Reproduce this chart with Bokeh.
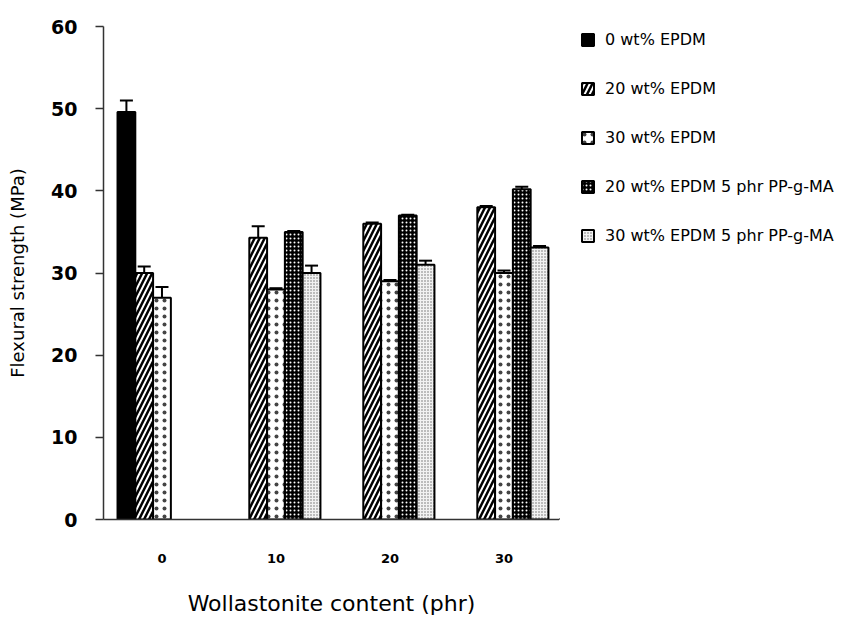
import math
from bokeh.plotting import figure
from bokeh.layouts import row
from bokeh.models import (ColumnDataSource, Range1d, FixedTicker, Whisker, TeeHead,
                          Legend, LegendItem)
from bokeh.embed import file_html
from bokeh.resources import INLINE

# ---- data ----
categories = ["0", "10", "20", "30"]
series_names = ["0 wt% EPDM", "20 wt% EPDM", "30 wt% EPDM",
                "20 wt% EPDM 5 phr PP-g-MA", "30 wt% EPDM 5 phr PP-g-MA"]
nan = float("nan")
epdm0 = [49.6, nan, nan, nan]
epdm0_err = [1.4, nan, nan, nan]
epdm20 = [30.0, 34.3, 36.0, 38.0]
epdm20_err = [0.8, 1.4, 0.15, 0.15]
epdm30 = [27.0, 28.0, 29.0, 30.0]
epdm30_err = [1.3, 0.15, 0.15, 0.3]
epdm20_ma = [nan, 35.0, 37.0, 40.2]
epdm20_ma_err = [nan, 0.1, 0.1, 0.3]
epdm30_ma = [nan, 30.0, 31.0, 33.1]
epdm30_ma_err = [nan, 0.9, 0.5, 0.2]
y_ticks = [0, 10, 20, 30, 40, 50, 60]

values = [epdm0, epdm20, epdm30, epdm20_ma, epdm30_ma]
errors = [epdm0_err, epdm20_err, epdm30_err, epdm20_ma_err, epdm30_ma_err]

styles = [
    dict(fill_color="black"),
    dict(fill_color="white", hatch_pattern="/", hatch_color="black", hatch_scale=10, hatch_weight=2.5),
    dict(fill_color="white", hatch_pattern=".", hatch_color="#444444", hatch_scale=8, hatch_weight=1.0),
    dict(fill_color="black", hatch_pattern=".", hatch_color="white", hatch_scale=4, hatch_weight=1.4),
    dict(fill_color="#f2f2f2", hatch_pattern=".", hatch_color="#6a6a6a", hatch_scale=3, hatch_weight=1.3),
]

bar_w = 0.156
H = 618

p = figure(width=559, height=H, output_backend="svg", toolbar_location=None,
           x_range=Range1d(-0.513, 3.487), y_range=Range1d(0, 60),
           min_border_left=103, min_border_right=0, min_border_top=26, min_border_bottom=99)
p.outline_line_color = None
p.xgrid.visible = False
p.ygrid.visible = False

lg = figure(width=298, height=H, output_backend="svg", toolbar_location=None,
            x_range=Range1d(0, 1), y_range=Range1d(0, 1),
            x_axis_type=None, y_axis_type=None,
            min_border_left=0, min_border_right=0, min_border_top=0, min_border_bottom=0)
lg.outline_line_color = None

legend_items = []
for i, (name, vals, errs, st) in enumerate(zip(series_names, values, errors, styles)):
    xs, tops, ups, los = [], [], [], []
    for j, (v, e) in enumerate(zip(vals, errs)):
        if not math.isnan(v):
            xs.append(j + (i - 2) * bar_w)
            tops.append(v)
            ups.append(v + e)
            los.append(v - e)
    src = ColumnDataSource(dict(x=xs, top=tops, upper=ups, lower=los))
    p.vbar(x="x", top="top", bottom=0, width=bar_w, source=src,
           line_color="black", line_width=2, **st)
    w = Whisker(source=src, base="x", upper="upper", lower="lower",
                line_color="black", line_width=2,
                upper_head=TeeHead(size=13, line_width=2, line_color="black"),
                lower_head=TeeHead(size=13, line_width=2, line_color="black"))
    p.add_layout(w)
    # legend proxy renderer (off-screen) with identical style
    proxy = ColumnDataSource(dict(x=[-10.0], top=[0.0]))
    r = lg.vbar(x="x", top="top", bottom=0, width=0.1, source=proxy,
                line_color="black", line_width=2, **st)
    legend_items.append(LegendItem(label=name, renderers=[r]))

legend = Legend(items=legend_items, location=(21, 274), orientation="vertical",
                glyph_width=15, glyph_height=15, label_height=19, spacing=30,
                label_standoff=10, padding=0, margin=0, border_line_color=None,
                background_fill_alpha=0,
                label_text_font="DejaVu Sans", label_text_font_size="16px",
                label_text_color="black")
lg.add_layout(legend, "center")

# y axis
ya = p.yaxis[0]
ya.ticker = FixedTicker(ticks=y_ticks)
ya.axis_line_color = "#333333"
ya.axis_line_width = 1.5
ya.major_tick_line_color = "#333333"
ya.major_tick_line_width = 1.5
ya.major_tick_out = 8
ya.major_tick_in = 0
ya.minor_tick_line_color = None
ya.major_label_standoff = 18
ya.major_label_text_font = "DejaVu Sans"
ya.major_label_text_font_style = "bold"
ya.major_label_text_font_size = "19px"
ya.major_label_text_color = "black"
ya.axis_label = "Flexural strength (MPa)"
ya.axis_label_text_font = "DejaVu Sans"
ya.axis_label_text_font_style = "normal"
ya.axis_label_text_font_size = "18px"
ya.axis_label_text_color = "black"
ya.axis_label_standoff = 20

# x axis
xa = p.xaxis[0]
xa.ticker = FixedTicker(ticks=list(range(len(categories))))
xa.major_label_overrides = {i: c for i, c in enumerate(categories)}
xa.axis_line_color = "#333333"
xa.axis_line_width = 1.5
xa.major_tick_line_color = None
xa.minor_tick_line_color = None
xa.major_tick_out = 0
xa.major_tick_in = 0
xa.major_label_standoff = 34
xa.major_label_text_font = "DejaVu Sans"
xa.major_label_text_font_style = "bold"
xa.major_label_text_font_size = "13px"
xa.major_label_text_color = "black"
xa.axis_label = "Wollastonite content (phr)"
xa.axis_label_text_font = "DejaVu Sans"
xa.axis_label_text_font_style = "normal"
xa.axis_label_text_font_size = "22px"
xa.axis_label_text_color = "black"
xa.axis_label_standoff = 25

layout = row(p, lg, spacing=0)
open("out.html", "w").write(file_html(layout, INLINE))
